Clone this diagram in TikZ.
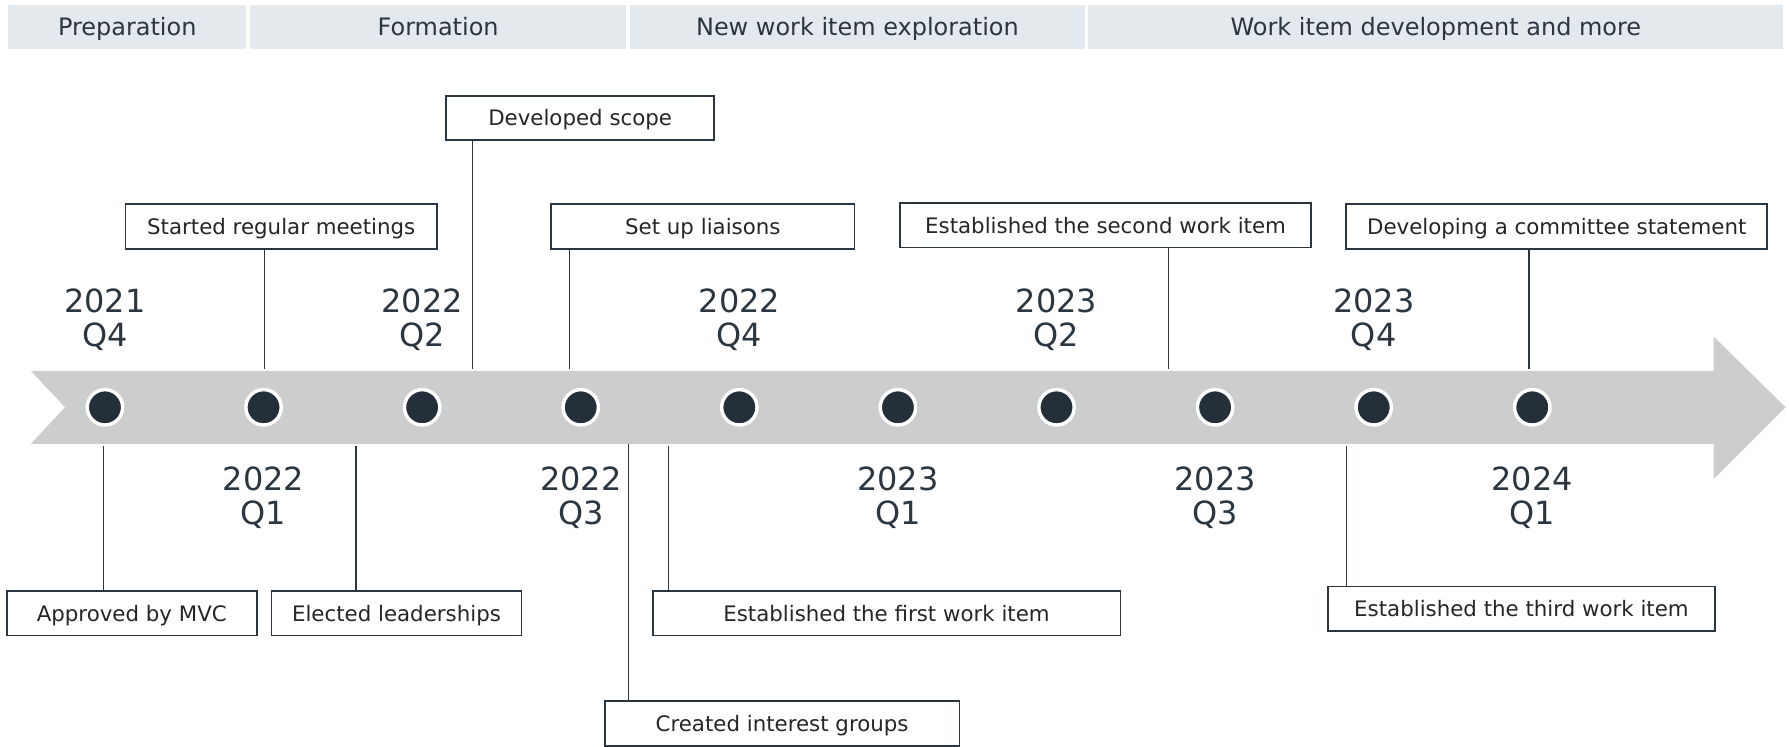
\documentclass[tikz,border=0pt]{standalone}
\usepackage{fontspec}
\setmainfont{DejaVu Sans}
\definecolor{barfill}{HTML}{E4E9ED}
\definecolor{inkdark}{HTML}{2B3640}
\definecolor{arrowgray}{HTML}{CCCDCF}
\definecolor{dotdark}{HTML}{252F39}
\tikzset{
  phase/.style={fill=barfill, text=inkdark, minimum height=39pt, inner sep=0pt, text height=19.5pt, text depth=4.2pt, font=\fontsize{21}{24}\selectfont},
  event/.style={draw=inkdark, line width=1.6pt, fill=white, minimum height=39pt, inner sep=0pt, text height=17.4pt, text depth=3.7pt, text=black!85, font=\fontsize{18.7}{22}\selectfont},
  quarter/.style={text=inkdark, align=center, font=\fontsize{28}{30}\selectfont},
  milestone/.style={circle, fill=dotdark, draw=white, line width=3pt, minimum size=31pt, inner sep=0pt},
  stem/.style={draw=inkdark, line width=1.1pt}
}
\begin{document}
\begin{tikzpicture}[x=1pt,y=-1pt]
                  \useasboundingbox (0,0) rectangle (1568,654.7);
                  % phases
                  \node[phase, minimum width=209pt] (prep) at (111.5,23.5) {Preparation};
                  \node[phase, minimum width=330pt] (form) at (384,23.5) {Formation};
                  \node[phase, minimum width=399pt] (explore) at (751.5,23.5) {New work item exploration};
                  \node[phase, minimum width=609pt] (develop) at (1258.5,23.5) {Work item development and more};
                  % timeline arrow
                  \fill[arrowgray] (27,325) -- (1502,325) -- (1502,295) -- (1565,357) -- (1502,420) -- (1502,389) -- (27,389) -- (57,357) -- cycle;
                  \foreach \i in {0,...,9}
                        \node[milestone] (m\i) at (92+139*\i,357) {};
                  \foreach \i/\yr/\q/\y in {0/2021/Q4/280, 1/2022/Q1/436, 2/2022/Q2/280, 3/2022/Q3/436, 4/2022/Q4/280,
                                           5/2023/Q1/436, 6/2023/Q2/280, 7/2023/Q3/436, 8/2023/Q4/280, 9/2024/Q1/436}
                        \node[quarter] (q\i) at (92+139*\i,\y) {\yr\\\q};
                  % events above
                  \node[event, minimum width=235pt] (scope) at (508.5,103.5) {Developed scope};
                  \node[event, minimum width=273pt] (meetings) at (246.5,198.5) {Started regular meetings};
                  \node[event, minimum width=266pt] (liaisons) at (616,198.5) {Set up liaisons};
                  \node[event, minimum width=360pt] (second) at (969,197.5) {Established the second work item};
                  \node[event, minimum width=369pt] (statement) at (1364.5,198.5) {Developing a committee statement};
                  \coordinate (t1) at (414,323);
                  \coordinate (t2) at (232,323);
                  \coordinate (t3) at (499,323);
                  \coordinate (t4) at (1024,323);
                  \coordinate (t5) at (1340,323);
                  \draw[stem] (scope.south -| t1) -- (t1);
                  \draw[stem] (meetings.south -| t2) -- (t2);
                  \draw[stem] (liaisons.south -| t3) -- (t3);
                  \draw[stem] (second.south -| t4) -- (t4);
                  \draw[stem] (statement.south -| t5) -- (t5);
                  % events below
                  \node[event, minimum width=219pt] (mvc) at (115.5,537.5) {Approved by MVC};
                  \node[event, minimum width=219pt] (leaders) at (347.5,537.5) {Elected leaderships};
                  \node[event, minimum width=311pt] (groups) at (685.5,634) {Created interest groups};
                  \node[event, minimum width=410pt] (first) at (777,537.5) {Established the first work item};
                  \node[event, minimum width=339pt] (third) at (1333.5,533.5) {Established the third work item};
                  \coordinate (b1) at (91,391);
                  \coordinate (b2) at (312,391);
                  \coordinate (b3) at (551,389);
                  \coordinate (b4) at (586,391);
                  \coordinate (b5) at (1180,391);
                  \draw[stem] (b1) -- (b1 |- mvc.north);
                  \draw[stem] (b2) -- (b2 |- leaders.north);
                  \draw[stem] (b3) -- (b3 |- groups.north);
                  \draw[stem] (b4) -- (b4 |- first.north);
                  \draw[stem] (b5) -- (b5 |- third.north);
            \end{tikzpicture}
\end{document}
